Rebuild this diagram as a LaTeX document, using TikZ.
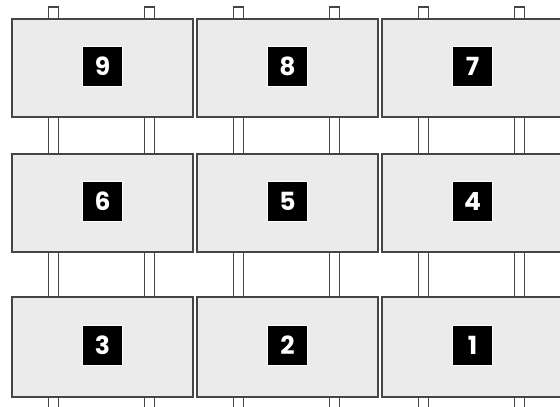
\documentclass[tikz,border=0pt]{standalone}
\usepackage{fontspec}
\newfontfamily\tagfont{Poppins}
\usetikzlibrary{positioning}

\definecolor{panelgray}{HTML}{EBEBEB}
\definecolor{edgegray}{HTML}{454545}

\tikzset{
  panel/.style={draw=edgegray,fill=panelgray,line width=1.4pt,
    minimum width=181pt,minimum height=98pt,inner sep=0pt},
  tag/.style={fill=black,draw=white,line width=0.8pt,minimum size=39.5pt,
    inner sep=0pt,text=white,font=\tagfont\bfseries\fontsize{25}{25}\selectfont},
  post/.style={draw=edgegray,fill=white,line width=1.2pt}
}

\begin{document}
\begin{tikzpicture}[x=1pt,y=-1pt]
    \useasboundingbox (0,0) rectangle (560,407);
    \clip (0,0) rectangle (560,407);

    % posts behind the panels
    \foreach \L in {12,197,382}
      \foreach \dx in {41.5,137.5}
        \draw[post] (\L+\dx-5,7) rectangle (\L+\dx+5,415);

    % panels and their numbers
    \foreach \n/\x/\y/\h in {9/102.5/68/98, 8/287.5/68/98, 7/472.5/68/98,
                             6/102.5/203/98, 5/287.5/203/98, 4/472.5/203/98,
                             3/102.5/347/100, 2/287.5/347/100, 1/472.5/347/100}
    {
      \node[panel,minimum height=\h pt] (p\n) at (\x,\y) {};
      \node[tag] (t\n) at ([yshift=1.5pt]p\n.center) {\n};
    }

\end{tikzpicture}
\end{document}
